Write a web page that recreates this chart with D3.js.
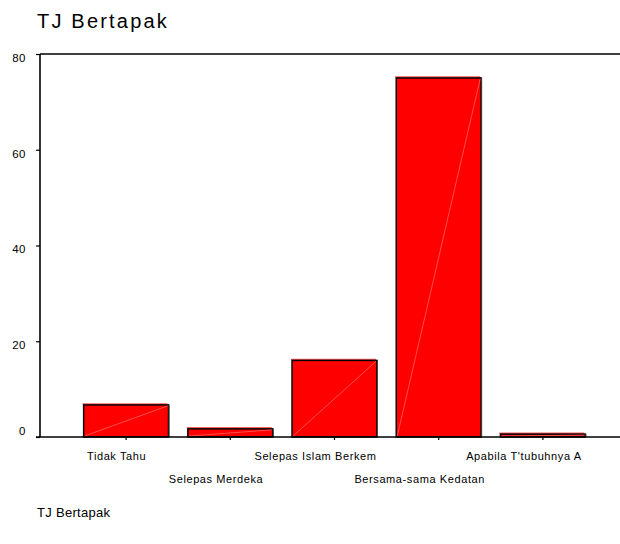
<!DOCTYPE html>
<html>
<head>
<meta charset="utf-8">
<script src="https://cdn.jsdelivr.net/npm/d3@7"></script>
<style>
  html, body { margin: 0; padding: 0; background: #fff; }
  svg { display: block; font-family: "Liberation Sans", Arial, sans-serif; }
</style>
</head>
<body>
<svg id="chart" width="620" height="544"></svg>
<script>
const categories = ["Tidak Tahu", "Selepas Merdeka", "Selepas Islam Berkem", "Bersama-sama Kedatan", "Apabila T'tubuhnya A"];
const values = [6.7, 1.7, 16.0, 75.0, 0.6];
const yTicks = [0, 20, 40, 60, 80];
const title = "TJ Bertapak";
const footer = "TJ Bertapak";

(function () {
const svg = d3.select("#chart");
const mLeft = 40, mTop = 54, mBottom = 437, mRight = 620;

const x = d3.scaleBand().domain(categories).range([74, 595]).paddingInner(0.185).paddingOuter(0.0925);
const y = d3.scaleLinear().domain([0, 80]).range([mBottom, mTop]);

// title
svg.append("text").attr("x", 37).attr("y", 28).attr("font-size", 20).attr("letter-spacing", 2.2)
  .attr("fill", "#000").text(title);

// bars
const g = svg.append("g");
categories.forEach((c, i) => {
  const x0 = x(c), w = x.bandwidth(), y0 = y(values[i]), h = y(0) - y0;
  g.append("line").attr("x1", x0 - 1).attr("x2", x0 + w - 1).attr("y1", y0 - 1).attr("y2", y0 - 1)
    .attr("stroke", "#ff5a5a").attr("stroke-width", 1.5);
  g.append("rect").attr("x", x0).attr("y", y0).attr("width", w).attr("height", h)
    .attr("fill", "#ff0000").attr("stroke", "#000").attr("stroke-width", 1.5);
  g.append("line").attr("x1", x0 + 1).attr("y1", y(0) - 1).attr("x2", x0 + w - 1).attr("y2", y0 + 1)
    .attr("stroke", "#ff7a7a").attr("stroke-width", 0.8).attr("opacity", 0.8);
  g.append("line").attr("x1", x0 + w + 0.5).attr("x2", x0 + w + 0.5).attr("y1", y0).attr("y2", y(0))
    .attr("stroke", "#444").attr("stroke-width", 1);
});

// frame top line
svg.append("line").attr("x1", mLeft).attr("x2", mRight).attr("y1", mTop).attr("y2", mTop)
  .attr("stroke", "#000").attr("stroke-width", 1.6);

// y axis
const yAxis = svg.append("g").attr("transform", `translate(${mLeft},0)`)
  .call(d3.axisLeft(y).tickValues(yTicks).tickSize(4).tickFormat(d3.format("d")));
yAxis.select(".domain").attr("stroke", "#000").attr("stroke-width", 1.6).attr("d", `M0,${mTop}V${mBottom}`);
yAxis.selectAll(".tick line").attr("stroke", "#000").attr("stroke-width", 1.2);
yAxis.selectAll(".tick text").attr("font-size", 11.5).attr("font-family", "Liberation Sans, Arial, sans-serif")
  .attr("letter-spacing", 0.5)
  .attr("fill", "#000").attr("x", -14).attr("dy", d => d === 0 ? "-0.2em" : "0.65em");

// x axis
const xAxis = svg.append("g").attr("transform", `translate(0,${mBottom})`)
  .call(d3.axisBottom(x).tickSize(3).tickFormat(""));
xAxis.select(".domain").attr("stroke", "#000").attr("stroke-width", 1.6).attr("d", `M${mLeft - 4},0H${mRight}`);
xAxis.selectAll(".tick line").attr("stroke", "#000").attr("stroke-width", 1.2);

// category labels (staggered)
categories.forEach((c, i) => {
  svg.append("text")
    .attr("x", x(c) + x.bandwidth() / 2 - 0.95 * c.length)
    .attr("y", i % 2 === 0 ? 460 : 483)
    .attr("text-anchor", "middle").attr("font-size", 11).attr("letter-spacing", 0.6)
    .attr("fill", "#000").text(c);
});

// footer
svg.append("text").attr("x", 37).attr("y", 517).attr("font-size", 13).attr("letter-spacing", 0.3)
  .attr("fill", "#000").text(footer);
})();
</script>
</body>
</html>
